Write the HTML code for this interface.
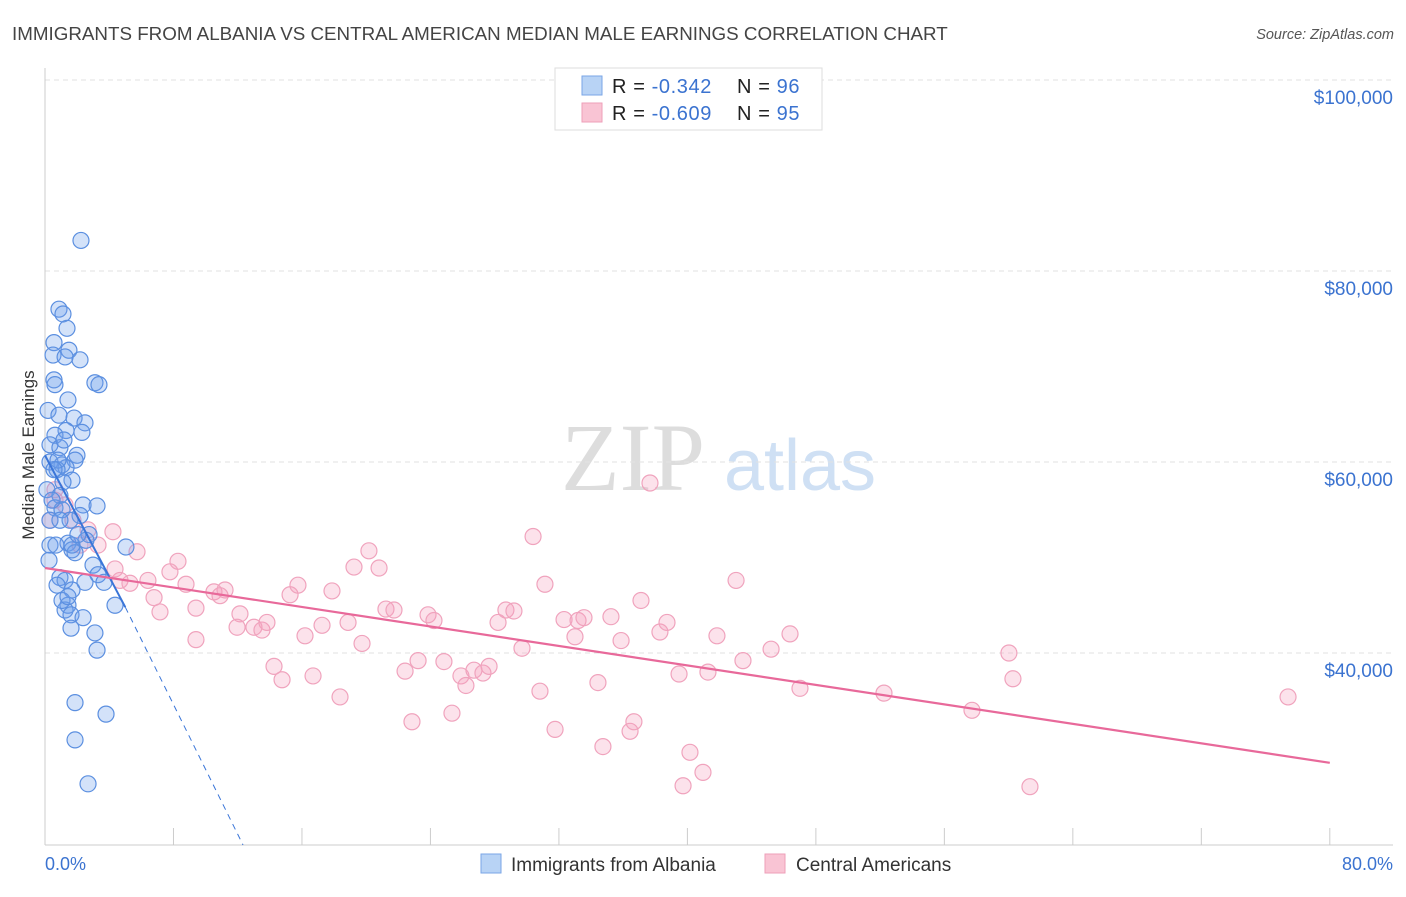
<!DOCTYPE html>
<html><head><meta charset="utf-8"><style>
body{margin:0;background:#fff;font-family:"Liberation Sans",sans-serif}
svg text{font-family:"Liberation Sans",sans-serif}
</style></head><body>
<svg id="c" width="1406" height="892">
<text x="12" y="40" font-size="18.8" fill="#444">IMMIGRANTS FROM ALBANIA VS CENTRAL AMERICAN MEDIAN MALE EARNINGS CORRELATION CHART</text>
<text x="1394" y="39" font-size="14.5" fill="#555" font-style="italic" text-anchor="end">Source: ZipAtlas.com</text>
<text x="0" y="0" transform="translate(34,455) rotate(-90)" font-size="17" fill="#333" text-anchor="middle">Median Male Earnings</text>
<g><text x="633" y="490" font-size="96" fill="#ddd" font-family="Liberation Serif" text-anchor="middle" style="font-family:'Liberation Serif',serif">ZIP</text><text x="800" y="490" font-size="72" fill="#cfe0f4" text-anchor="middle">atlas</text></g>
<g id="grid"></g><g id="axes"></g><g id="pts"></g><g id="lines"></g>
<g>
<rect x="555" y="68" width="267" height="62" fill="#fff" stroke="#ddd"/>
<rect x="582" y="76" width="20" height="19" fill="#b8d3f5" stroke="#7aa6e6"/>
<rect x="582" y="103" width="20" height="19" fill="#f9c4d4" stroke="#ee9fb9"/>
<text x="612" y="93" font-size="20" fill="#222" letter-spacing="0.6">R = <tspan fill="#3b73d0">-0.342</tspan><tspan x="737">N = </tspan><tspan fill="#3b73d0">96</tspan></text>
<text x="612" y="120" font-size="20" fill="#222" letter-spacing="0.6">R = <tspan fill="#3b73d0">-0.609</tspan><tspan x="737">N = </tspan><tspan fill="#3b73d0">95</tspan></text>
</g>
<g>
<rect x="481" y="854" width="20" height="19" fill="#b8d3f5" stroke="#7aa6e6"/>
<text x="511" y="871" font-size="19" fill="#333">Immigrants from Albania</text>
<rect x="765" y="854" width="20" height="19" fill="#f9c4d4" stroke="#ee9fb9"/>
<text x="796" y="871" font-size="19" fill="#333">Central Americans</text>
</g>
<text x="45" y="870" font-size="18" fill="#3b73d0">0.0%</text>
<text x="1393" y="870" font-size="18" fill="#3b73d0" text-anchor="end">80.0%</text>
</svg>
<script>
const yTicks=[40000,60000,80000,100000];
const yTickLabels=["$40,000","$60,000","$80,000","$100,000"];
const xTicks=[0,8,16,24,32,40,48,56,64,72,80];
const blueX=[2.24,.87,1.12,1.37,.56,1.49,.5,1.25,2.18,3.11,3.36,.56,.62,1.43,.19,.87,1.81,2.49,2.3,1.31,.62,.31,.93,1.99,1.87,.31,1.06,1.31,.75,1.68,1.12,.12,.93,2.37,3.24,.62,1.06,2.18,1.56,2.74,2.55,5.04,.31,1.43,1.68,1.87,2.99,3.3,.93,1.25,.75,2.49,1.68,3.67,4.36,1.43,1.25,1.62,2.37,1.62,3.11,3.24,1.87,3.8,1.87,2.68,.31,.44,.81,1.18,.56,.93,1.68,2.05,.68,.25,1.06,1.43];
const blueY=[83.2,76.0,75.5,74.0,72.5,71.7,71.2,71.0,70.7,68.3,68.1,68.6,68.1,66.5,65.4,64.9,64.6,64.1,63.1,63.3,62.8,61.8,61.5,60.7,60.2,60.0,59.7,59.4,59.2,58.1,57.9,57.1,56.5,55.5,55.4,55.2,55.0,54.4,53.9,52.4,51.8,51.1,51.3,51.5,50.8,50.5,49.2,48.2,47.9,47.6,47.1,47.4,46.6,47.4,45.0,45.0,44.5,44.0,43.7,42.6,42.1,40.3,34.8,33.6,30.9,26.3,53.9,56.0,60.2,62.3,59.2,53.9,51.3,52.4,51.3,49.7,45.5,45.9];
const pinkX=[.31,.62,1.25,1.74,2.68,3.3,4.23,5.73,8.28,4.36,4.67,6.41,5.29,7.78,8.78,6.79,7.16,9.4,10.52,11.21,10.9,9.4,12.14,11.96,13.01,13.51,13.82,14.26,14.76,15.26,15.75,16.19,16.69,17.25,17.87,18.37,18.87,19.24,19.74,20.17,20.8,21.23,21.73,22.42,22.85,23.23,23.85,24.22,24.84,25.34,25.9,26.21,26.71,27.27,27.65,28.21,28.7,29.2,29.7,30.39,30.82,31.13,31.76,32.32,33.0,33.19,33.56,34.43,34.74,35.24,35.87,36.43,36.67,37.11,37.67,38.29,38.73,39.48,40.16,39.73,40.97,41.28,41.84,43.03,43.46,45.21,46.39,47.01,52.24,57.72,60.02,60.27,61.33,77.4,2.18,.62];
const pinkY=[53.9,56.0,55.5,53.9,52.9,51.3,52.7,50.6,49.6,48.8,47.6,47.6,47.3,48.5,47.2,45.8,44.3,44.7,46.4,46.6,46.0,41.4,44.1,42.7,42.7,42.4,43.2,38.6,37.2,46.1,47.1,41.8,37.6,42.9,46.5,35.4,43.2,49.0,41.0,50.7,48.9,44.6,44.5,38.1,32.8,39.2,44.0,43.4,39.1,33.7,37.6,36.6,38.2,37.9,38.6,43.2,44.5,44.4,40.5,52.2,36.0,47.2,32.0,43.5,41.7,43.4,43.7,36.9,30.2,43.8,41.3,31.8,32.8,45.5,57.8,42.2,43.2,37.8,29.6,26.1,27.5,38.0,41.8,47.6,39.2,40.4,42.0,36.3,35.8,34.0,40.0,37.3,26.0,35.4,51.3,57.1];
const blueTrendX=[0,5.0,12.33];
const blueTrendY=[60.7,44.8,19.9];
const pinkTrendX=[0,80];
const pinkTrendY=[48.9,28.5];
const NS="http://www.w3.org/2000/svg";
const X=p=>45+p*16.06;
const Y=v=>653-(v-40)*9.55;
function mk(tag,attrs,parent){const e=document.createElementNS(NS,tag);for(const k in attrs)e.setAttribute(k,attrs[k]);document.getElementById(parent).appendChild(e);return e;}
yTicks.forEach((t,i)=>{const y=Y(t/1000);
const g=mk('line',{x1:45,x2:1393,y1:y,y2:y,stroke:'#e2e2e2','stroke-dasharray':'5,4'},'grid');


const tx=mk('text',{x:1393,y:y+24,'font-size':19,fill:'#3b73d0','text-anchor':'end'},'axes');tx.textContent=yTickLabels[i];

});
const ax=mk('line',{x1:45,x2:1393,y1:845,y2:845,stroke:'#ccc'},'axes');


const ay=mk('line',{x1:45,x2:45,y1:68,y2:845,stroke:'#ccc'},'axes');


xTicks.forEach(t=>{const l=mk('line',{x1:X(t),x2:X(t),y1:828,y2:845,stroke:'#ccc'},'axes');

});
pinkX.forEach((p,i)=>{const c=mk('circle',{cx:X(p),cy:Y(pinkY[i]),r:8,fill:'rgba(245,160,190,0.3)',stroke:'#f0a3bd','stroke-width':1.2},'pts');

});
blueX.forEach((p,i)=>{const c=mk('circle',{cx:X(p),cy:Y(blueY[i]),r:8,fill:'rgba(110,160,235,0.3)',stroke:'#5b8fe0','stroke-width':1.2},'pts');

});
const b1=mk('line',{x1:X(blueTrendX[0]),y1:Y(blueTrendY[0]),x2:X(blueTrendX[1]),y2:Y(blueTrendY[1]),stroke:'#3a75d8','stroke-width':2},'lines');


const b2=mk('line',{x1:X(blueTrendX[1]),y1:Y(blueTrendY[1]),x2:X(blueTrendX[2]),y2:Y(blueTrendY[2]),stroke:'#3a75d8','stroke-width':1,'stroke-dasharray':'6,5'},'lines');


const p1=mk('line',{x1:X(pinkTrendX[0]),y1:Y(pinkTrendY[0]),x2:X(pinkTrendX[1]),y2:Y(pinkTrendY[1]),stroke:'#e8699a','stroke-width':2.2},'lines');


</script>
</body></html>
